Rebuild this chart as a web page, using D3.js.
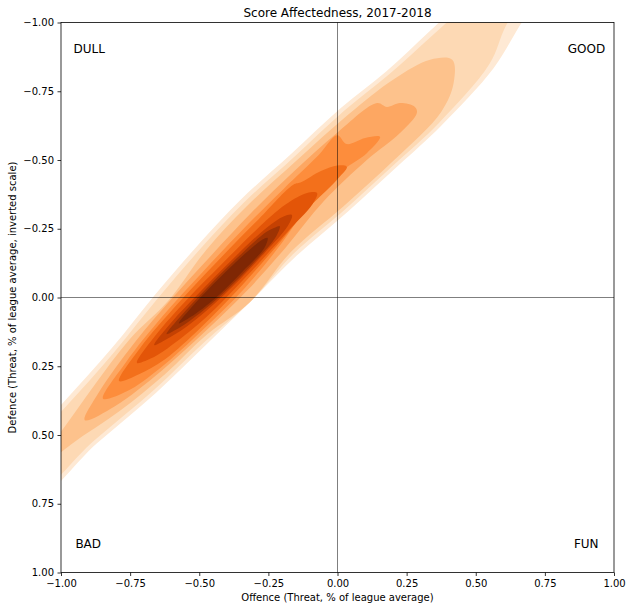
<!DOCTYPE html>
<html>
<head>
<meta charset="utf-8">
<script src="https://cdn.jsdelivr.net/npm/d3@7"></script>
<style>
  body { margin: 0; background: #fff; }
  text { font-family: "DejaVu Sans", sans-serif; fill: #000; }
</style>
</head>
<body>
<div id="chart"></div>
<script>
// KDE contour outlines, outermost level first, as [offence, defence]
var level1 = [[-1.25,0.65],[-1.005,0.396],[-0.816,0.184],[-0.66,-0.01],[-0.498,-0.198],[-0.353,-0.353],
  [-0.17,-0.52],[0.012,-0.689],[0.177,-0.823],[0.333,-0.968],[0.485,-1.115],[0.66,-1.29],
  [0.775,-1.175],[0.66,-0.99],[0.565,-0.835],[0.375,-0.625],[0.22,-0.48],[0.038,-0.313],
  [-0.15,-0.15],[-0.3,0.0],[-0.477,0.174],[-0.655,0.345],[-0.87,0.53],[-1.135,0.765]];
var level2 = [[-1.238,0.663],[-0.993,0.408],[-0.805,0.195],[-0.649,0.002],[-0.487,-0.187],[-0.342,-0.342],
  [-0.159,-0.509],[0.023,-0.678],[0.188,-0.813],[0.345,-0.955],[0.503,-1.098],[0.655,-1.245],
  [0.725,-1.175],[0.61,-0.99],[0.55,-0.85],[0.366,-0.634],[0.211,-0.489],[0.029,-0.322],
  [-0.159,-0.159],[-0.309,0.009],[-0.485,0.165],[-0.664,0.336],[-0.88,0.52],[-1.145,0.755]];
var level3 = [[-1.16,0.69],[-1.005,0.495],[-0.88,0.32],[-0.75,0.15],[-0.613,0.013],[-0.474,-0.174],
  [-0.33,-0.33],[-0.148,-0.498],[0.037,-0.664],[0.205,-0.795],[0.335,-0.865],[0.415,-0.865],
  [0.42,-0.78],[0.375,-0.675],[0.203,-0.498],[0.02,-0.33],[-0.167,-0.167],[-0.317,0.017],
  [-0.469,0.132],[-0.623,0.278],[-0.788,0.413],[-0.965,0.535]];
var level4 = [[-0.914,0.446],[-0.86,0.34],[-0.735,0.165],[-0.598,0.003],[-0.455,-0.155],[-0.31,-0.31],
  [-0.158,-0.458],[0.0,-0.6],[0.143,-0.707],[0.179,-0.693],[0.226,-0.707],[0.28,-0.693],
  [0.287,-0.671],[0.226,-0.598],[0.106,-0.5],[-0.05,-0.35],[-0.185,-0.185],[-0.326,-0.026],
  [-0.478,0.123],[-0.635,0.265],[-0.805,0.395]];
var level5 = [[-0.848,0.368],[-0.765,0.235],[-0.633,0.068],[-0.49,-0.09],[-0.345,-0.245],[-0.195,-0.395],
  [-0.068,-0.518],[-0.001,-0.59],[0.033,-0.558],[0.1,-0.58],[0.154,-0.584],[0.106,-0.525],
  [0.02,-0.464],[-0.074,-0.38],[-0.2,-0.2],[-0.335,-0.035],[-0.485,0.115],[-0.643,0.258],[-0.76,0.34]];
var level6 = [[-0.79,0.304],[-0.715,0.185],[-0.578,0.023],[-0.433,-0.133],[-0.285,-0.285],[-0.16,-0.41],
  [-0.13,-0.42],[-0.06,-0.46],[0.0,-0.48],[0.034,-0.475],[-0.005,-0.425],[-0.115,-0.315],
  [-0.205,-0.205],[-0.345,-0.045],[-0.493,0.108],[-0.625,0.225],[-0.72,0.28]];
var level7 = [[-0.725,0.238],[-0.66,0.14],[-0.544,0.007],[-0.42,-0.12],[-0.295,-0.245],[-0.188,-0.338],
  [-0.11,-0.38],[-0.074,-0.38],[-0.09,-0.34],[-0.185,-0.235],[-0.328,-0.078],[-0.477,0.074],
  [-0.615,0.185],[-0.678,0.223]];
var level8 = [[-0.663,0.173],[-0.605,0.095],[-0.484,-0.034],[-0.359,-0.159],[-0.255,-0.255],[-0.195,-0.295],
  [-0.165,-0.3],[-0.18,-0.26],[-0.263,-0.163],[-0.41,-0.01],[-0.545,0.105],[-0.625,0.155]];
var level9 = [[-0.618,0.133],[-0.56,0.06],[-0.454,-0.054],[-0.343,-0.163],[-0.258,-0.238],[-0.225,-0.255],
  [-0.209,-0.259],[-0.222,-0.222],[-0.3,-0.13],[-0.425,-0.005],[-0.535,0.085],[-0.59,0.12]];
var level10 = [[-0.574,0.094],[-0.522,0.029],[-0.424,-0.074],[-0.321,-0.171],[-0.271,-0.211],[-0.253,-0.217],
  [-0.263,-0.183],[-0.344,-0.094],[-0.445,0.005],[-0.53,0.07]];

var levels = [level1, level2, level3, level4, level5, level6, level7, level8, level9, level10];

var xTicks = [-1, -0.75, -0.5, -0.25, 0, 0.25, 0.5, 0.75, 1];
var yTicks = [-1, -0.75, -0.5, -0.25, 0, 0.25, 0.5, 0.75, 1];

var quadrants = ["DULL", "GOOD", "BAD", "FUN"];
var quadrantSpots = [[-0.955, -0.888], [0.833, -0.888], [-0.948, 0.911], [0.855, 0.911]];

var width = 627, height = 604;
var margin = {top: 22.5, right: 13, bottom: 31.5, left: 61};

var svg = d3.select("#chart").append("svg")
    .attr("width", width)
    .attr("height", height);

var x = d3.scaleLinear().domain([-1, 1]).range([margin.left, width - margin.right]);
var y = d3.scaleLinear().domain([-1, 1]).range([margin.top, height - margin.bottom]); // inverted: -1 on top

// colours like matplotlib's Oranges; lowest band is left out, shaded ones run 0.1 .. 1
var oranges = d3.scaleLinear()
    .domain(d3.range(9).map(function(i) { return i / 8; }))
    .range(d3.schemeOranges[9]);

svg.append("clipPath").attr("id", "plotclip")
  .append("rect")
    .attr("x", x(-1)).attr("y", y(-1))
    .attr("width", x(1) - x(-1)).attr("height", y(1) - y(-1));

var line = d3.line()
    .x(function(d) { return x(d[0]); })
    .y(function(d) { return y(d[1]); })
    .curve(d3.curveCatmullRomClosed.alpha(0.5));

svg.append("g")
    .attr("clip-path", "url(#plotclip)")
  .selectAll("path")
  .data(levels)
  .enter().append("path")
    .attr("d", line)
    .attr("fill", function(d, i) { return oranges((i + 1) / levels.length); })
    .attr("stroke", "none");

// reference lines through the origin
svg.append("line")
    .attr("x1", x(0)).attr("x2", x(0))
    .attr("y1", y(-1)).attr("y2", y(1))
    .attr("stroke", "#000").attr("stroke-opacity", 0.5).attr("stroke-width", 1);
svg.append("line")
    .attr("x1", x(-1)).attr("x2", x(1))
    .attr("y1", y(0)).attr("y2", y(0))
    .attr("stroke", "#000").attr("stroke-opacity", 0.5).attr("stroke-width", 1);

// axes
var fmt = d3.format(".2f");
var xAxis = svg.append("g")
    .attr("transform", "translate(0," + y(1) + ")")
    .call(d3.axisBottom(x).tickValues(xTicks).tickFormat(fmt).tickSize(3.5).tickPadding(3.5).tickSizeOuter(0));
var yAxis = svg.append("g")
    .attr("transform", "translate(" + x(-1) + ",0)")
    .call(d3.axisLeft(y).tickValues(yTicks).tickFormat(fmt).tickSize(3.5).tickPadding(3.5).tickSizeOuter(0));

[xAxis, yAxis].forEach(function(g) {
  g.select(".domain").remove();
  g.selectAll(".tick line").attr("stroke", "#000").attr("stroke-width", 0.8);
  g.selectAll(".tick text").attr("font-size", 10).attr("font-family", "DejaVu Sans").attr("fill", "#000");
});

// frame
svg.append("rect")
    .attr("x", x(-1)).attr("y", y(-1))
    .attr("width", x(1) - x(-1)).attr("height", y(1) - y(-1))
    .attr("fill", "none").attr("stroke", "#000").attr("stroke-width", 0.8);

// quadrant labels
svg.append("g").selectAll("text")
  .data(quadrants)
  .enter().append("text")
    .attr("x", function(d, i) { return x(quadrantSpots[i][0]); })
    .attr("y", function(d, i) { return y(quadrantSpots[i][1]); })
    .attr("font-size", 12)
    .text(function(d) { return d; });

svg.append("text")
    .attr("x", x(0)).attr("y", 16.5)
    .attr("text-anchor", "middle")
    .attr("font-size", 12)
    .text("Score Affectedness, 2017-2018");

svg.append("text")
    .attr("x", x(0)).attr("y", 600.5)
    .attr("text-anchor", "middle")
    .attr("font-size", 10)
    .text("Offence (Threat, % of league average)");

svg.append("text")
    .attr("transform", "translate(16," + y(0) + ") rotate(-90)")
    .attr("text-anchor", "middle")
    .attr("font-size", 10)
    .text("Defence (Threat, % of league average, inverted scale)");
</script>
</body>
</html>
